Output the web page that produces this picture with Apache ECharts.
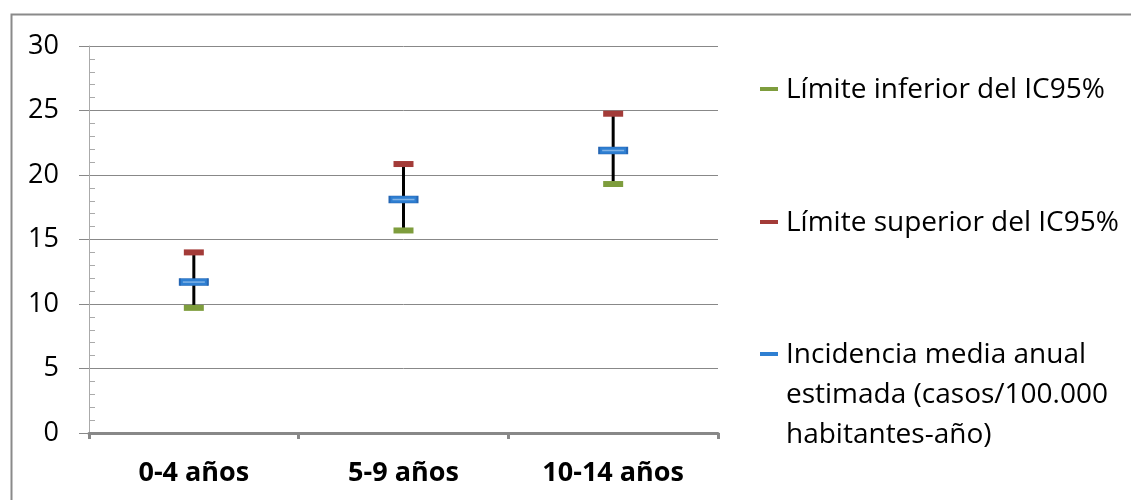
<!DOCTYPE html>
<html>
<head>
<meta charset="utf-8">
<script src="https://cdn.jsdelivr.net/npm/echarts@6/dist/echarts.min.js"></script>
<style>
  html, body { margin: 0; padding: 0; background: #fff; }
  #myChart { width: 1131px; height: 500px; }
</style>
</head>
<body>
<div id="myChart"></div>
<script>
// datos
var categories = ['0-4 años', '5-9 años', '10-14 años'];
var lower = [9.7, 15.7, 19.3];
var upper = [14.0, 20.85, 24.75];
var mean = [11.7, 18.1, 21.9];
var yTicks = [0, 5, 10, 15, 20, 25, 30];
var legendNames = [
  'Límite inferior del IC95%',
  'Límite superior del IC95%',
  'Incidencia media anual\nestimada (casos/100.000\nhabitantes-año)'
];

var green = '#7E9D3D';
var red = '#A33B38';
var blue = '#2E7FD2';
var axisGray = '#888888';
var font = '"Open Sans", "Noto Sans", sans-serif';

var chartDom = document.getElementById('myChart');
var myChart = echarts.init(chartDom, null, { renderer: 'canvas' });

// leyenda dibujada a mano: el icono va con la primera línea del texto
function legendItem(center, color, text) {
  return [
    { type: 'rect', left: 760, top: center - 2, shape: { width: 18, height: 4 }, style: { fill: color } },
    {
      type: 'text', left: 786, top: center - 19,
      style: { text: text, font: '28px ' + font, fill: '#000', lineHeight: 40 }
    }
  ];
}

var option = {
  backgroundColor: '#fff',
  animation: false,
  grid: { left: 89, right: 413, top: 46, bottom: 67 },
  xAxis: {
    type: 'category',
    data: categories,
    boundaryGap: true,
    axisLine: { lineStyle: { color: axisGray, width: 3 } },
    axisTick: { show: true, length: 6, lineStyle: { color: axisGray, width: 3 } },
    axisLabel: { fontFamily: font, fontSize: 27, fontWeight: 'bold', color: '#000', margin: 27 }
  },
  yAxis: {
    type: 'value',
    min: yTicks[0],
    max: yTicks[yTicks.length - 1],
    interval: 5,
    axisLine: { show: true, lineStyle: { color: '#aaaaaa', width: 1 } },
    axisTick: { show: true, length: 10, lineStyle: { color: axisGray } },
    minorTick: { show: true, splitNumber: 5, length: -6, lineStyle: { color: '#aaaaaa' } },
    splitLine: { show: true, lineStyle: { color: axisGray, width: 1 } },
    axisLabel: { fontFamily: font, fontSize: 27, color: '#000', margin: 30 }
  },
  graphic: [
    {
      type: 'rect', left: 9, top: 12, silent: true, z: -10,
      shape: { width: 1200, height: 600 },
      style: { fill: 'none', stroke: '#8a8a8a', lineWidth: 2 }
    }
  ].concat(legendItem(89, green, legendNames[0]))
   .concat(legendItem(222, red, legendNames[1]))
   .concat(legendItem(354, blue, legendNames[2])),
  series: [
    {
      name: 'rango',
      type: 'custom',
      z: 1,
      data: categories.map(function (c, i) { return [i, lower[i], upper[i]]; }),
      renderItem: function (params, api) {
        var p1 = api.coord([api.value(0), api.value(1)]);
        var p2 = api.coord([api.value(0), api.value(2)]);
        return {
          type: 'line',
          shape: { x1: p1[0], y1: p1[1], x2: p2[0], y2: p2[1] },
          style: { stroke: '#000', lineWidth: 3 }
        };
      }
    },
    {
      name: legendNames[0],
      type: 'scatter',
      z: 3,
      symbol: 'rect',
      symbolSize: [20, 6],
      itemStyle: { color: green, opacity: 1 },
      data: lower
    },
    {
      name: legendNames[1],
      type: 'scatter',
      z: 3,
      symbol: 'rect',
      symbolSize: [20, 6],
      itemStyle: { color: red, opacity: 1 },
      data: upper
    },
    {
      name: legendNames[2],
      type: 'scatter',
      z: 4,
      symbol: 'rect',
      symbolSize: [28, 7],
      itemStyle: { color: blue, borderColor: '#2566B4', borderWidth: 1, opacity: 1 },
      data: mean
    },
    {
      // brillo central del marcador azul
      name: 'brillo',
      type: 'scatter',
      z: 5,
      silent: true,
      symbol: 'rect',
      symbolSize: [22, 1.5],
      itemStyle: { color: '#7FB2E6', opacity: 1 },
      data: mean
    }
  ]
};

option && myChart.setOption(option);
</script>
</body>
</html>
